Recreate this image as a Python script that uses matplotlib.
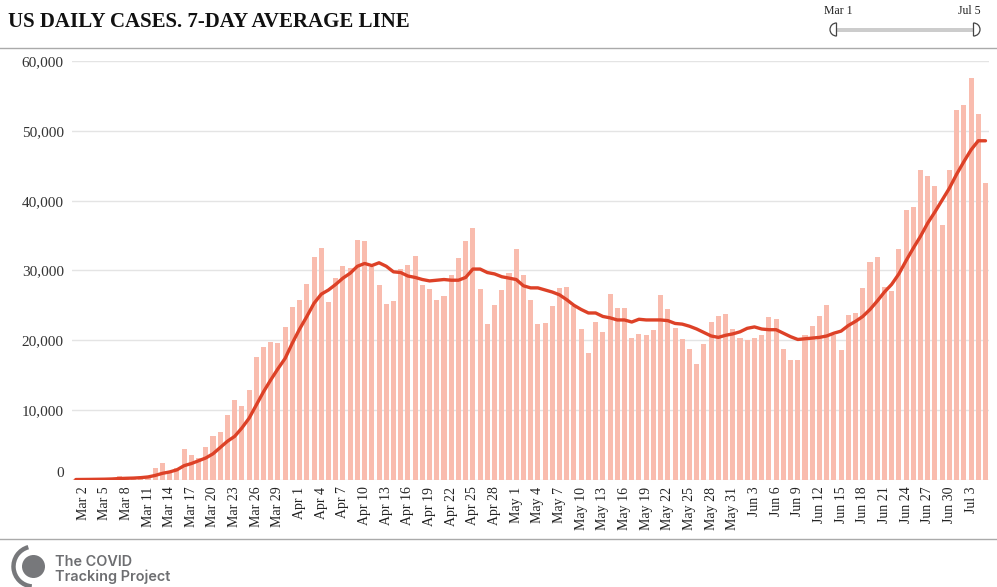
import matplotlib
matplotlib.use("Agg")
import matplotlib.pyplot as plt
from matplotlib.patches import Wedge, Circle, Arc, Rectangle
from matplotlib.transforms import ScaledTranslation
import datetime as dt

start = dt.date(2020, 3, 1)
n_days = 127
dates = [start + dt.timedelta(days=i) for i in range(n_days)]
date_labels = [d.strftime("%b ") + str(d.day) for d in dates]

daily_cases = [
    20, 40, 60, 70, 100, 150, 450, 300, 250, 350,
    450, 1660, 2420, 1100, 1600, 4400, 3500, 3100, 4700, 6300,
    6800, 9300, 11400, 10600, 12900, 17600, 19000, 19700, 19600, 21900,
    24800, 25800, 28100, 32000, 33200, 25500, 28900, 30600, 30400, 34400,
    34200, 30500, 27900, 25200, 25600, 30200, 30800, 32100, 27900, 27300,
    25800, 26300, 29300, 31800, 34200, 36100, 27300, 22300, 25000, 27200,
    29600, 33100, 29300, 25800, 22300, 22500, 24900, 27500, 27600, 24900,
    21600, 18200, 22600, 21200, 26600, 24600, 24600, 20300, 20900, 20700,
    21500, 26500, 24500, 21800, 20200, 18700, 16600, 19500, 22600, 23500,
    23800, 21600, 20300, 20000, 20300, 20700, 23300, 23000, 18700, 17200,
    17200, 20700, 22000, 23500, 25000, 20700, 18600, 23600, 23900, 27500,
    31200, 31900, 27600, 27000, 33100, 38700, 39100, 44400, 43600, 42100,
    36500, 44400, 53000, 53700, 57600, 52400, 42600,
]

avg_7day = [
    10, 20, 30, 45, 60, 90, 150, 190, 220, 280,
    380, 600, 900, 1100, 1400, 2000, 2300, 2700, 3100, 3700,
    4600, 5500, 6200, 7400, 8800, 10700, 12600, 14300, 15900, 17400,
    19600, 21600, 23400, 25300, 26600, 27200, 28000, 28900, 29600, 30600,
    31000, 30700, 31100, 30600, 29800, 29700, 29200, 29000, 28700, 28500,
    28600, 28700, 28600, 28600, 29000, 30200, 30200, 29700, 29500, 29100,
    28900, 28700, 27800, 27500, 27500, 27200, 26900, 26500, 25800, 25000,
    24400, 23900, 23900, 23400, 23200, 22900, 22900, 22600, 23000, 22900,
    22900, 22900, 22800, 22400, 22300, 22000, 21600, 21100, 20600, 20400,
    20700, 20900, 21200, 21700, 21900, 21600, 21500, 21500, 21000, 20500,
    20100, 20200, 20300, 20400, 20600, 21000, 21300, 22100, 22700, 23400,
    24400, 25600, 26900, 28000, 29500, 31400, 33200, 34900, 36800, 38400,
    40100, 41800, 43800, 45600, 47300, 48600, 48600,
]

y_ticks = [0, 10000, 20000, 30000, 40000, 50000, 60000]
y_tick_labels = ["0", "10,000", "20,000", "30,000", "40,000", "50,000", "60,000"]
title = "US DAILY CASES. 7-DAY AVERAGE LINE"
range_start_label = "Mar 1"
range_end_label = "Jul 5"
logo_lines = ["The COVID", "Tracking Project"]

W, H = 997, 587
fig = plt.figure(figsize=(W / 100, H / 100), dpi=100)
fig.patch.set_facecolor("white")

# main axes in pixel geometry
ax_left, ax_right, ax_top, ax_bottom = 72.2, 989.1, 61.3, 479.6
ax = fig.add_axes([ax_left / W, 1 - ax_bottom / H, (ax_right - ax_left) / W, (ax_bottom - ax_top) / H])
x = list(range(n_days))
ax.bar(x, daily_cases, width=0.7, color="#f9bcae", zorder=2)
ax.plot(x, avg_7day, color="#dd4127", linewidth=2.4, zorder=3, solid_capstyle="round")
ax.set_xlim(-0.5, n_days - 0.5)
ax.set_ylim(0, 60000)
for s in ax.spines.values():
    s.set_visible(False)
ax.set_yticks(y_ticks)
ax.set_yticklabels(y_tick_labels, fontfamily="Liberation Serif", fontsize=11, color="#333333")
ax.grid(axis="y", color="#e4e4e4", linewidth=1, zorder=0)
ax.set_axisbelow(True)
tick_idx = list(range(1, n_days, 3))
ax.set_xticks(tick_idx)
ax.set_xticklabels([date_labels[i] for i in tick_idx], rotation=90, fontfamily="Liberation Serif",
                   fontsize=10, color="#222222", va="top", ha="center")
ax.tick_params(axis="both", length=0)
ax.tick_params(axis="x", pad=5)
ax.tick_params(axis="y", pad=6)
# shift "0" label upward like in reference
for lab in ax.get_yticklabels():
    if lab.get_text() == "0":
        lab.set_transform(lab.get_transform() + ScaledTranslation(0, 8 / 100, fig.dpi_scale_trans))

# overlay in pixel coordinates for decorations
ov = fig.add_axes([0, 0, 1, 1], zorder=-1)
ov.set_xlim(0, W)
ov.set_ylim(H, 0)
ov.axis("off")
ov.patch.set_alpha(0)

ov.text(8, 22, title, fontfamily="Liberation Serif", fontweight="bold", fontsize=15,
        color="#111111", va="center", ha="left")
ov.plot([0, W], [48, 48], color="#aaaaaa", linewidth=1)
ov.plot([0, W], [538.5, 538.5], color="#aaaaaa", linewidth=1)

# range slider
ov.text(838.5, 11, range_start_label, fontfamily="Liberation Serif", fontsize=8.5, color="#222222",
        ha="center", va="center")
ov.text(969.5, 11, range_end_label, fontfamily="Liberation Serif", fontsize=8.5, color="#222222",
        ha="center", va="center")
ov.add_patch(Rectangle((836, 27.5), 138, 4, facecolor="#cccccc", edgecolor="none"))
ov.add_patch(Wedge((836.5, 29.5), 6.5, 90, 270, facecolor="white", edgecolor="#444444", linewidth=0.9))
ov.add_patch(Wedge((973.5, 29.5), 6.5, -90, 90, facecolor="white", edgecolor="#444444", linewidth=0.9))

# logo
ov.add_patch(Circle((33.5, 566.5), 11.5, facecolor="#77787b", edgecolor="none"))
ov.add_patch(Arc((33.5, 566.5), 40, 40, theta1=95, theta2=255, color="#77787b", linewidth=3.2))
ov.text(55, 561.5, logo_lines[0], fontfamily="Inter", fontweight="semibold", fontsize=10.4,
        color="#6d6e71", va="center", ha="left")
ov.text(55, 577, logo_lines[1], fontfamily="Inter", fontweight="semibold", fontsize=10.4,
        color="#6d6e71", va="center", ha="left")

fig.savefig("out.png", dpi=100, facecolor="white")
